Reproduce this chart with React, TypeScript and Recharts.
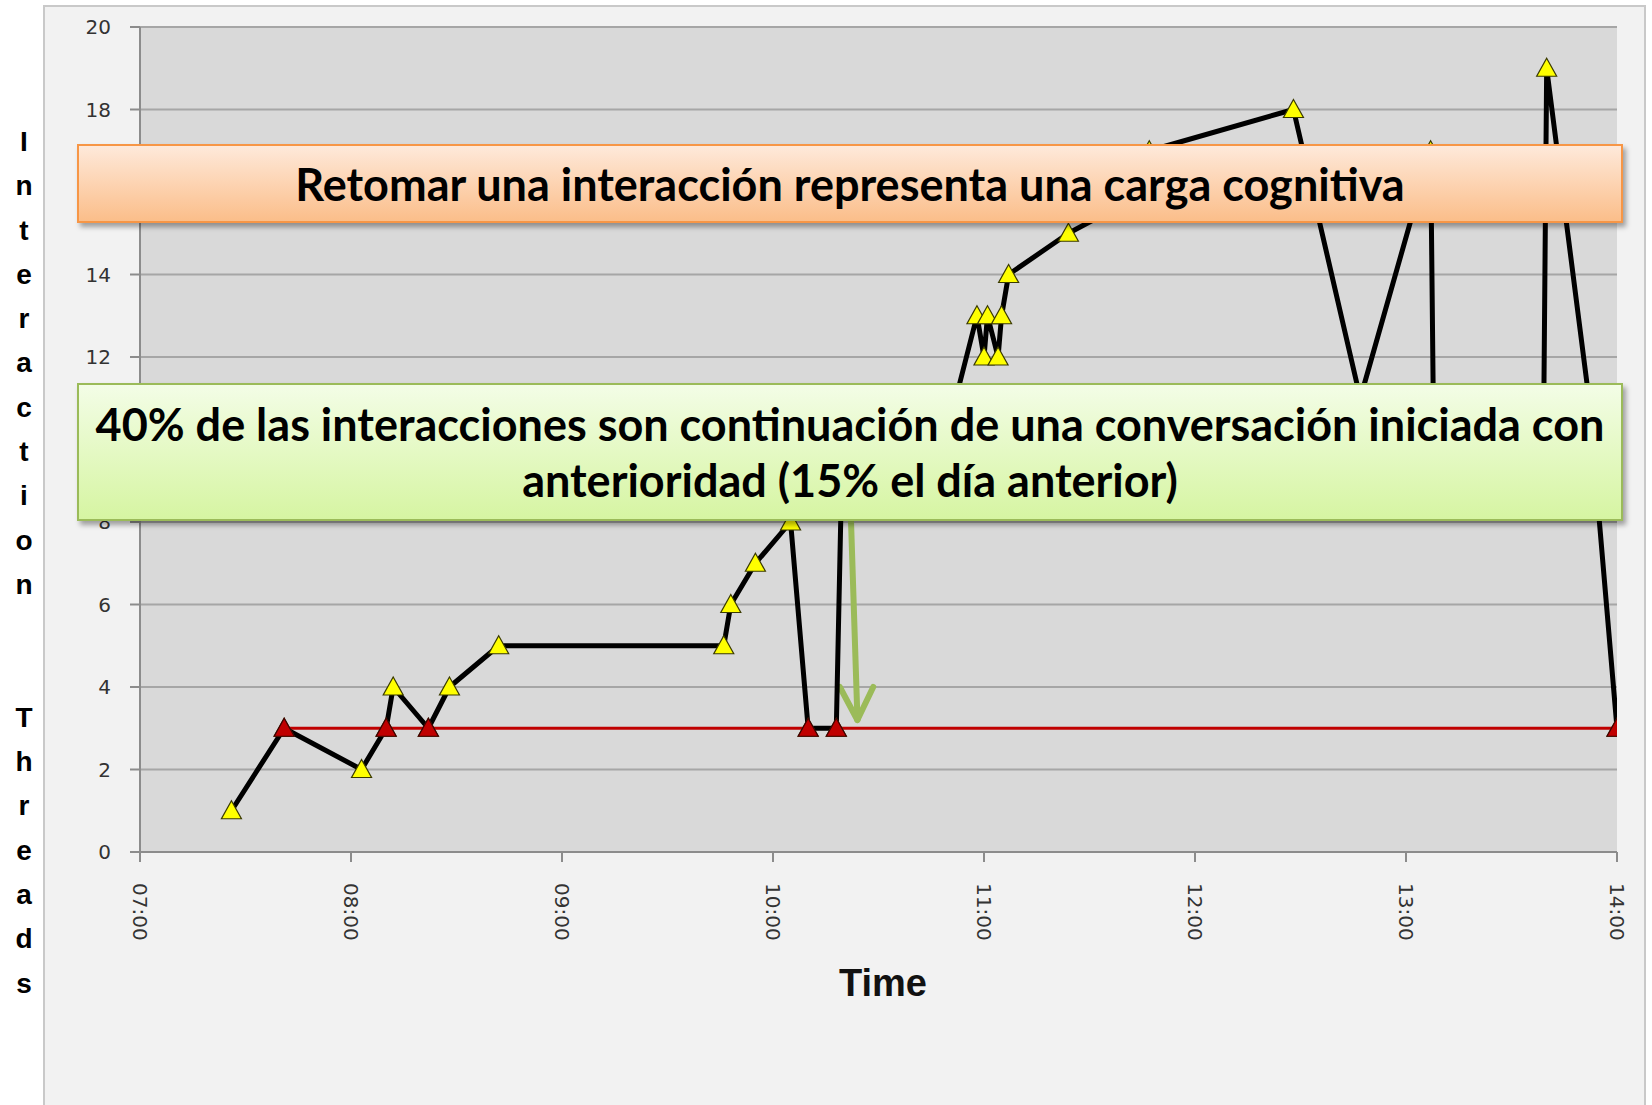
import { LineChart, Line, XAxis, YAxis, CartesianGrid, ReferenceLine } from "recharts";

// --- data (times as HH:MM, values = interaction threads) ---
const mainTimes = [
  "07:26", "07:41", "08:03", "08:10", "08:12", "08:22", "08:28", "08:42",
  "09:46", "09:48", "09:55", "10:05", "10:10", "10:18", "10:20", "10:52",
  "10:58", "11:00", "11:01", "11:04", "11:05", "11:07", "11:24", "11:46",
  "11:47", "12:28", "12:47", "13:07", "13:08", "13:39", "13:40", "13:52", "14:00"
];
const mainValues = [
  1, 3, 2, 3, 4, 3, 4, 5,
  5, 6, 7, 8, 3, 3, 11, 11,
  13, 12, 13, 12, 13, 14, 15, 16,
  17, 18, 11, 17, 9, 9, 19, 11, 3
];
const resumeTimes = ["07:41", "08:10", "08:22", "10:10", "10:18", "14:00"];
const resumeValue = 3;

const xTickLabels = ["07:00", "08:00", "09:00", "10:00", "11:00", "12:00", "13:00", "14:00"];
const yTicks = [0, 2, 4, 6, 8, 10, 12, 14, 16, 18, 20];

// green arrow annotation (time, value)
const arrowShaft = [["10:22", 8.5], ["10:24", 3.25]];
const arrowWingL = [["10:19", 4.0], ["10:24", 3.2]];
const arrowWingR = [["10:28.5", 4.0], ["10:24", 3.2]];

const yTitle = "Interaction  Threads";
const topNote = "Retomar una interacción representa una carga cognitiva";
const bottomNote = ["40% de las interacciones son continuación de una conversación iniciada con", "anterioridad (15% el día anterior)"];

const toMin = (s: string) => {
  const [h, m] = s.split(":");
  return Number(h) * 60 + Number(m);
};
const fmt = (v: number) => {
  const h = Math.floor(v / 60);
  const m = v % 60;
  return `${String(h).padStart(2, "0")}:${String(m).padStart(2, "0")}`;
};

const mainData = mainTimes.map((t, i) => ({ t: toMin(t), v: mainValues[i] }));
const resumeData = resumeTimes.map((t) => ({ t: toMin(t), v: resumeValue }));
const seg = (s: any[]) => s.map(([t, v]) => ({ x: toMin(t), y: v }));

const tri = (cx: number, cy: number) =>
  `M${cx},${cy - 10} L${cx + 10},${cy + 8} L${cx - 10},${cy + 8} Z`;

const YellowDot = (p: any) => (
  <path key={`y-${p.index}`} d={tri(p.cx, p.cy)} fill="#FFFF00" stroke="#3a3a00" strokeWidth={1.2} />
);
const RedDot = (p: any) => (
  <path key={`r-${p.index}`} d={tri(p.cx, p.cy)} fill="#C00000" stroke="#400000" strokeWidth={1.2} />
);

const TimeTick = ({ x, y, payload }: any) => (
  <text
    x={x}
    y={y + 19}
    transform={`rotate(90, ${x}, ${y + 19})`}
    dy="0.36em"
    textAnchor="start"
    fontFamily="DejaVu Sans"
    fontSize={20}
    fill="#333"
  >
    {fmt(payload.value)}
  </text>
);

export default function App() {
  return (
    <div style={{ position: "absolute", left: 0, top: 0, width: 1652, height: 1105, overflow: "hidden", background: "#fff" }}>
      {/* chart area frame */}
      <div
        style={{
          position: "absolute", left: 43, top: 5, width: 1603, height: 1110,
          background: "#F2F2F2", border: "2px solid #C9C9C9", boxSizing: "border-box",
        }}
      />

      {/* vertical axis title, one letter per line */}
      <div
        style={{
          position: "absolute", left: 4, top: 120, width: 40, textAlign: "center",
          fontFamily: "Liberation Sans", fontWeight: 700, fontSize: 28, lineHeight: "44.3px", color: "#000",
        }}
      >
        {yTitle.split("").map((c, i) => (
          <div key={i}>{c === " " ? "\u00a0" : c}</div>
        ))}
      </div>

      <div style={{ position: "absolute", left: 0, top: 0 }}>
        <LineChart width={1652} height={1105} margin={{ top: 27, right: 35, left: 80, bottom: 153 }}>
          <CartesianGrid vertical={false} fill="#D9D9D9" stroke="#A6A6A6" strokeWidth={2} />
          <XAxis
            dataKey="t"
            type="number"
            domain={[420, 840]}
            ticks={xTickLabels.map(toMin)}
            interval={0}
            height={100}
            tickSize={10}
            stroke="#8C8C8C"
            strokeWidth={2}
            tick={<TimeTick />}
            allowDataOverflow
          />
          <YAxis
            type="number"
            domain={[0, 20]}
            ticks={yTicks}
            interval={0}
            width={60}
            tickSize={10}
            tickMargin={19}
            stroke="#8C8C8C"
            strokeWidth={2}
            tick={{ fontFamily: "DejaVu Sans", fontSize: 20, fill: "#333" }}
          />
          {[arrowShaft, arrowWingL, arrowWingR].map((s, i) => (
            <ReferenceLine
              key={i}
              segment={seg(s)}
              stroke="#9BBB59"
              strokeWidth={6}
              strokeLinecap="round"
              ifOverflow="visible"
            />
          ))}
          <Line
            data={resumeData}
            dataKey="v"
            stroke="#C00000"
            strokeWidth={3}
            dot={false}
            activeDot={false}
            isAnimationActive={false}
          />
          <Line
            data={mainData}
            dataKey="v"
            type="linear"
            stroke="#000"
            strokeWidth={5}
            strokeLinejoin="round"
            dot={YellowDot}
            activeDot={false}
            isAnimationActive={false}
          />
          <Line
            data={resumeData}
            dataKey="v"
            stroke="none"
            dot={RedDot}
            activeDot={false}
            isAnimationActive={false}
          />
        </LineChart>
      </div>

      {/* x axis title */}
      <div
        style={{
          position: "absolute", left: 783, top: 962, width: 200, textAlign: "center",
          fontFamily: "Liberation Sans", fontWeight: 700, fontSize: 38, color: "#111",
        }}
      >
        Time
      </div>

      {/* annotation boxes */}
      <div
        style={{
          position: "absolute", left: 77, top: 144, width: 1546, height: 79, boxSizing: "border-box",
          border: "2px solid #F79646", background: "linear-gradient(#FEE9DA, #FBBE8A)",
          boxShadow: "3px 4px 5px rgba(0,0,0,0.35)", display: "flex", alignItems: "center", justifyContent: "center",
          fontFamily: "Lato", fontWeight: 700, fontSize: 45, color: "#000",
        }}
      >
        {topNote}
      </div>
      <div
        style={{
          position: "absolute", left: 77, top: 383, width: 1546, height: 138, boxSizing: "border-box",
          border: "2px solid #9BBB59", background: "linear-gradient(#F3FDE6, #D6F5A2)",
          boxShadow: "3px 4px 5px rgba(0,0,0,0.35)", display: "flex", flexDirection: "column",
          alignItems: "center", justifyContent: "center",
          fontFamily: "Lato", fontWeight: 700, fontSize: 45, lineHeight: "56px", color: "#000",
        }}
      >
        {bottomNote.map((l, i) => (
          <div key={i}>{l}</div>
        ))}
      </div>
    </div>
  );
}
